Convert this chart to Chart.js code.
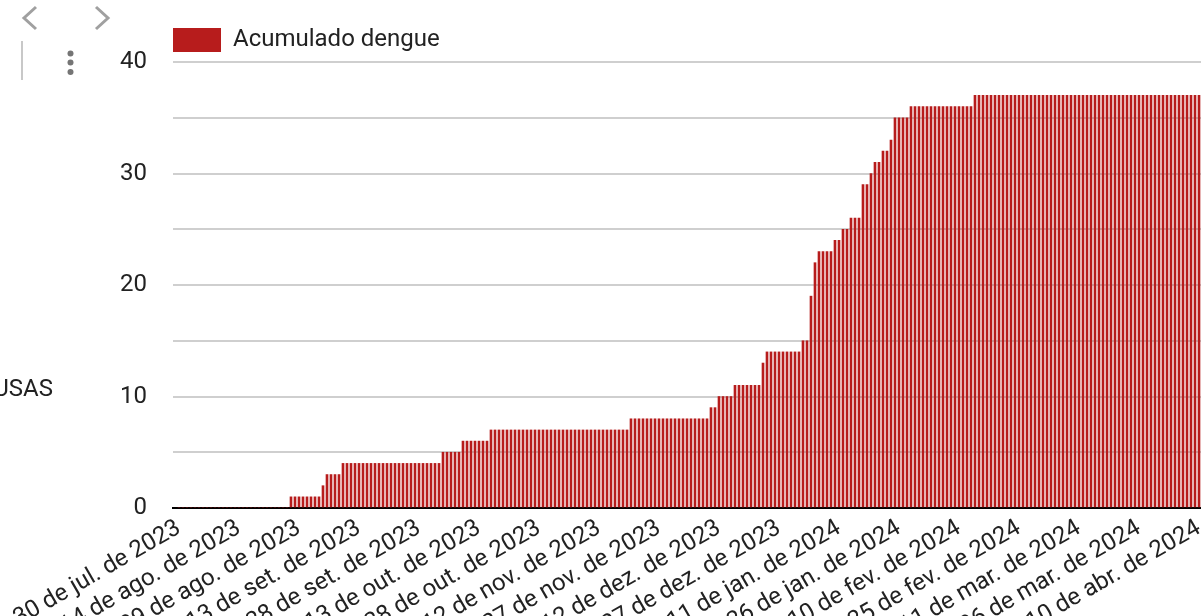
<!DOCTYPE html>
<html>
<head>
    <meta charset="utf-8">
    <title>Acumulado dengue</title>
    <script src="https://cdn.jsdelivr.net/npm/chart.js"></script>
    <style>
        body {
            margin: 0;
            background: #fff;
            font-family: Roboto, sans-serif;
        }
        #wrap {
            position: relative;
            width: 1201px;
            height: 616px;
            overflow: hidden;
        }
        #chrome {
            position: absolute;
            left: 0;
            top: 0;
        }
        #yTitle {
            position: absolute;
            right: 1148px;
            top: 376px;
            font-size: 24px;
            line-height: 24px;
            color: #222;
            white-space: nowrap;
        }
    </style>
</head>
<body>
    <div id="wrap">
        <canvas id="chart" width="1201" height="616"></canvas>
        <svg id="chrome" width="120" height="90">
            <polyline points="36,7 24,18 36,29" fill="none" stroke="#a0a0a0" stroke-width="3"/>
            <polyline points="96,7 108,18 96,29" fill="none" stroke="#a0a0a0" stroke-width="3"/>
            <line x1="22" y1="41" x2="22" y2="80" stroke="#c8c8c8" stroke-width="2"/>
            <circle cx="70.5" cy="53.5" r="3" fill="#757575"/>
            <circle cx="70.5" cy="62.5" r="3" fill="#757575"/>
            <circle cx="70.5" cy="72" r="3" fill="#757575"/>
        </svg>
        <div id="yTitle">CAUSAS</div>
    </div>

    <script>
        // one value per day, starting 30 jul. 2023
        const cumulative = [
            0, 0, 0, 0, 0,  0, 0, 0, 0, 0,  0, 0, 0, 0, 0,  0, 0, 0, 0, 0,  0, 0, 0, 0, 0,  0, 0, 0,
            1, 1, 1, 1, 1,  1, 1, 1,
            2,
            3, 3, 3, 3,
            4, 4, 4, 4, 4,  4, 4, 4, 4, 4,  4, 4, 4, 4, 4,  4, 4, 4, 4, 4,  4, 4, 4, 4, 4,
            5, 5, 5, 5, 5,
            6, 6, 6, 6, 6,  6, 6,
            7, 7, 7, 7, 7,  7, 7, 7, 7, 7,  7, 7, 7, 7, 7,  7, 7, 7, 7, 7,  7, 7, 7, 7, 7,  7, 7, 7, 7, 7,  7, 7, 7, 7, 7,
            8, 8, 8, 8, 8,  8, 8, 8, 8, 8,  8, 8, 8, 8, 8,  8, 8, 8, 8, 8,
            9, 9,
            10, 10, 10, 10,
            11, 11, 11, 11, 11,  11, 11,
            13,
            14, 14, 14, 14, 14,  14, 14, 14, 14,
            15, 15,
            19,
            22,
            23, 23, 23, 23,
            24, 24,
            25, 25,
            26, 26, 26,
            29, 29,
            30,
            31, 31,
            32, 32,
            33,
            35, 35, 35, 35,
            36, 36, 36, 36, 36,  36, 36, 36, 36, 36,  36, 36, 36, 36, 36,  36,
            37, 37, 37, 37, 37,  37, 37, 37, 37, 37,  37, 37, 37, 37, 37,  37, 37, 37, 37, 37,
            37, 37, 37, 37, 37,  37, 37, 37, 37, 37,  37, 37, 37, 37, 37,  37, 37, 37, 37, 37,
            37, 37, 37, 37, 37,  37, 37, 37, 37, 37,  37, 37, 37, 37, 37,  37, 37, 37
        ];

        // day index of each x tick and its label
        const tickDays = [0, 15, 30, 45, 60, 75, 90, 105, 120, 135, 150, 165, 180, 195, 210, 225, 240, 255];
        const tickLabels = [
            '30 de jul. de 2023', '14 de ago. de 2023', '29 de ago. de 2023', '13 de set. de 2023',
            '28 de set. de 2023', '13 de out. de 2023', '28 de out. de 2023', '12 de nov. de 2023',
            '27 de nov. de 2023', '12 de dez. de 2023', '27 de dez. de 2023', '11 de jan. de 2024',
            '26 de jan. de 2024', '10 de fev. de 2024', '25 de fev. de 2024', '11 de mar. de 2024',
            '26 de mar. de 2024', '10 de abr. de 2024'
        ];
        const yTicks = [0, 10, 20, 30, 40];

        const textColor = '#222222';
        const barColor = '#b71c1c';
        const font = { family: 'Roboto', size: 24 };

        const ctx = document.getElementById('chart').getContext('2d');
        new Chart(ctx, {
            type: 'bar',
            data: {
                datasets: [{
                    label: 'Acumulado dengue',
                    data: cumulative.map((v, i) => ({ x: i, y: v })),
                    backgroundColor: barColor,
                    borderWidth: 0,
                    barThickness: 2
                }]
            },
            options: {
                responsive: false,
                animation: false,
                layout: { padding: { top: 28, left: 0, right: 0, bottom: 0 } },
                plugins: {
                    tooltip: { enabled: false },
                    legend: {
                        position: 'top',
                        align: 'start',
                        fullSize: false,
                        labels: {
                            boxWidth: 48,
                            boxHeight: 24,
                            padding: 0,
                            color: textColor,
                            font: font
                        }
                    }
                },
                scales: {
                    x: {
                        type: 'linear',
                        min: -1.5,
                        max: 255.5,
                        offset: false,
                        grid: { display: false, drawTicks: false },
                        border: { display: true, color: '#000000', width: 2 },
                        afterBuildTicks: s => {
                            s.ticks = tickDays.map(v => ({ value: v }));
                        },
                        afterFit: s => {
                            s.height = 108;
                            s.paddingLeft = 0;
                            s.paddingRight = 0;
                        },
                        ticks: {
                            autoSkip: false,
                            minRotation: 30,
                            maxRotation: 30,
                            padding: 6,
                            color: textColor,
                            font: font,
                            callback: v => {
                                const k = tickDays.indexOf(v);
                                return k >= 0 ? tickLabels[k] : '';
                            }
                        }
                    },
                    y: {
                        min: 0,
                        max: 40,
                        border: { display: false },
                        grid: {
                            drawTicks: false,
                            lineWidth: 2,
                            color: c => (c.tick && c.tick.value === 0) ? 'rgba(0,0,0,0)' : '#cfcfcf'
                        },
                        afterFit: s => {
                            s.width = 173;
                        },
                        ticks: {
                            stepSize: 5,
                            padding: 26,
                            color: textColor,
                            font: font,
                            callback: v => yTicks.includes(v) ? v : ''
                        }
                    }
                }
            }
        });
    </script>
</body>
</html>
